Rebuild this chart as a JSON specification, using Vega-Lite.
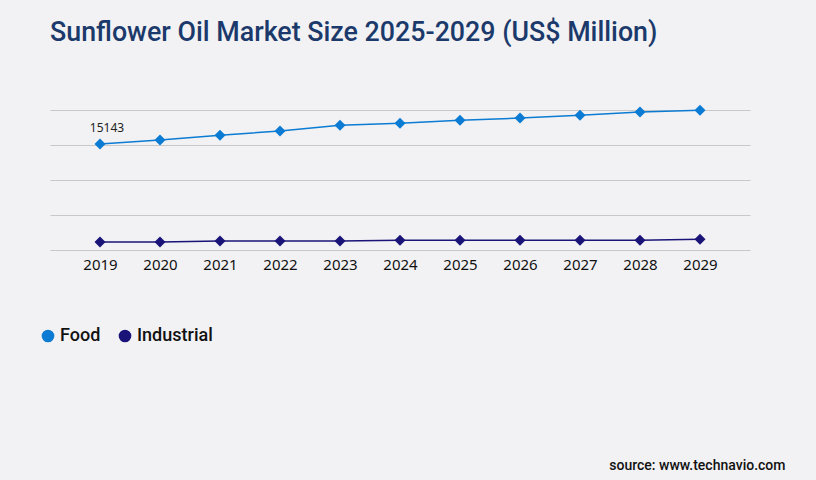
{
  "$schema": "https://vega.github.io/schema/vega-lite/v6.json",
  "width": 700,
  "height": 140,
  "autosize": {"type": "none"},
  "padding": {"left": 50, "top": 110, "right": 66, "bottom": 230},
  "background": "#f2f2f4",
  "view": {"stroke": null},
  "title": {
    "text": "Sunflower Oil Market Size 2025-2029 (US$ Million)",
    "anchor": "start",
    "frame": "group",
    "font": "Roboto",
    "fontSize": 26.8,
    "fontWeight": 500,
    "color": "#1b3a6b",
    "offset": 58
  },
  "data": {
    "values": [
      {"year": "2019", "segment": "Food", "value": 15143},
      {"year": "2020", "segment": "Food", "value": 15714},
      {"year": "2021", "segment": "Food", "value": 16386},
      {"year": "2022", "segment": "Food", "value": 17000},
      {"year": "2023", "segment": "Food", "value": 17814},
      {"year": "2024", "segment": "Food", "value": 18100},
      {"year": "2025", "segment": "Food", "value": 18529},
      {"year": "2026", "segment": "Food", "value": 18857},
      {"year": "2027", "segment": "Food", "value": 19243},
      {"year": "2028", "segment": "Food", "value": 19714},
      {"year": "2029", "segment": "Food", "value": 19957},
      {"year": "2019", "segment": "Industrial", "value": 1143},
      {"year": "2020", "segment": "Industrial", "value": 1143},
      {"year": "2021", "segment": "Industrial", "value": 1286},
      {"year": "2022", "segment": "Industrial", "value": 1286},
      {"year": "2023", "segment": "Industrial", "value": 1286},
      {"year": "2024", "segment": "Industrial", "value": 1386},
      {"year": "2025", "segment": "Industrial", "value": 1386},
      {"year": "2026", "segment": "Industrial", "value": 1386},
      {"year": "2027", "segment": "Industrial", "value": 1386},
      {"year": "2028", "segment": "Industrial", "value": 1386},
      {"year": "2029", "segment": "Industrial", "value": 1529}
    ]
  },
  "encoding": {
    "x": {
      "field": "year",
      "type": "ordinal",
      "scale": {"type": "point", "padding": 0.8333},
      "axis": {
        "labelAngle": 0,
        "labelFont": "Noto Sans",
        "labelFontSize": 15,
        "labelColor": "#111111",
        "labelPadding": 7,
        "ticks": false,
        "domain": false,
        "title": "source: www.technavio.com",
        "titleFont": "Roboto",
        "titleFontSize": 14,
        "titleFontWeight": 500,
        "titleColor": "#111111",
        "titleAlign": "right",
        "titleBaseline": "alphabetic",
        "titleX": 735,
        "titleY": 219
      }
    },
    "y": {
      "field": "value",
      "type": "quantitative",
      "scale": {"domain": [0, 20000]},
      "axis": {
        "values": [0, 5000, 10000, 15000, 20000],
        "labels": false,
        "ticks": false,
        "domain": false,
        "title": null,
        "gridColor": "#c8c8c8",
        "gridWidth": 1
      }
    },
    "color": {
      "field": "segment",
      "type": "nominal",
      "scale": {"domain": ["Food", "Industrial"], "range": ["#0b7bd3", "#1a1478"]},
      "legend": {
        "title": null,
        "orient": "none",
        "direction": "horizontal",
        "legendX": -11,
        "legendY": 217,
        "symbolType": "circle",
        "symbolSize": 160,
        "symbolStrokeWidth": 0,
        "symbolOpacity": 1,
        "labelFont": "Roboto",
        "labelFontSize": 18,
        "labelFontWeight": 500,
        "labelColor": "#111111",
        "labelOffset": 3,
        "columnPadding": 15,
        "padding": 0,
        "encode": {
          "symbols": {
            "update": {
              "fill": {"scale": "color", "field": "value"},
              "fillOpacity": {"value": 1}
            }
          }
        }
      }
    }
  },
  "layer": [
    {
      "mark": {"type": "line", "strokeWidth": 1.5}
    },
    {
      "mark": {"type": "point", "shape": "diamond", "filled": true, "size": 120, "opacity": 1}
    },
    {
      "transform": [{"filter": "datum.segment === 'Food' && datum.year === '2019'"}],
      "mark": {
        "type": "text",
        "font": "Noto Sans",
        "fontSize": 12,
        "dx": 7,
        "dy": -16
      },
      "encoding": {
        "text": {"field": "value", "type": "quantitative", "format": "d"},
        "color": {"value": "#222222"}
      }
    }
  ]
}
